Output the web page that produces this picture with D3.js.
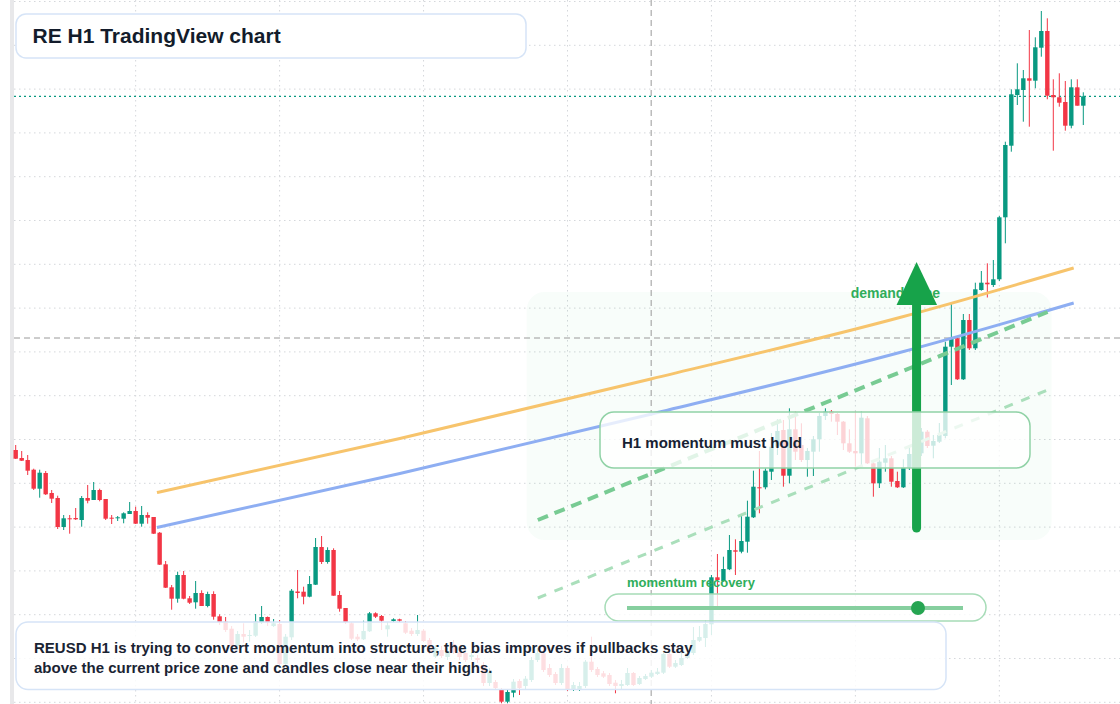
<!DOCTYPE html>
<html>
<head>
<meta charset="utf-8">
<script src="https://cdn.jsdelivr.net/npm/d3@7"></script>
<style>
  html, body { margin: 0; padding: 0; background: #fff; overflow: hidden; }
  svg { display: block; font-family: "Liberation Sans", Arial, Helvetica, sans-serif; }
</style>
</head>
<body>
<div id="chart"></div>
<script>
// REUSD H1 candles: [open, high, low, close]
const candles = [
  [1.05500,1.05550,1.05410,1.05413],[1.05420,1.05490,1.05390,1.05393],[1.05400,1.05450,1.05250,1.05293],
  [1.05303,1.05313,1.05100,1.05113],[1.05113,1.05303,1.05023,1.05273],[1.05270,1.05290,1.05050,1.05057],
  [1.05070,1.05100,1.04970,1.05013],[1.05020,1.05043,1.04710,1.04730],[1.04730,1.04850,1.04700,1.04817],
  [1.04817,1.04850,1.04663,1.04807],[1.04820,1.04920,1.04800,1.04807],[1.04800,1.05040,1.04733,1.05020],
  [1.05020,1.05150,1.04967,1.04993],[1.05000,1.05180,1.05000,1.05100],[1.05100,1.05113,1.04987,1.05000],
  [1.05010,1.05010,1.04800,1.04813],[1.04823,1.04850,1.04760,1.04813],[1.04817,1.04840,1.04790,1.04827],
  [1.04813,1.04877,1.04767,1.04867],[1.04860,1.04980,1.04860,1.04890],[1.04890,1.04933,1.04760,1.04763],
  [1.04763,1.04940,1.04733,1.04850],[1.04850,1.04877,1.04763,1.04823],[1.04830,1.04830,1.04660,1.04663],
  [1.04673,1.04680,1.04350,1.04353],[1.04357,1.04390,1.04120,1.04123],[1.04127,1.04150,1.03903,1.04013],
  [1.04013,1.04283,1.03973,1.04250],[1.04250,1.04290,1.04007,1.04013],[1.04017,1.04040,1.03960,1.03973],
  [1.03977,1.04190,1.03913,1.04070],[1.04070,1.04097,1.03940,1.03940],[1.03940,1.04083,1.03927,1.04060],
  [1.04060,1.04087,1.03803,1.03833],[1.03837,1.03857,1.03750,1.03780],[1.03783,1.03830,1.03680,1.03700],
  [1.03713,1.03740,1.03520,1.03540],[1.03540,1.03690,1.03520,1.03660],[1.03660,1.03767,1.03573,1.03633],
  [1.03640,1.03700,1.03583,1.03650],[1.03643,1.03860,1.03630,1.03783],[1.03780,1.03940,1.03760,1.03830],
  [1.03830,1.03835,1.03740,1.03780],[1.03740,1.03810,1.03730,1.03767],[1.03760,1.03800,1.03350,1.03360],
  [1.03360,1.03660,1.03340,1.03633],[1.03627,1.04110,1.03600,1.04093],[1.04085,1.04300,1.04017,1.04070],
  [1.04083,1.04133,1.03957,1.04033],[1.04033,1.04240,1.04027,1.04160],[1.04153,1.04620,1.04150,1.04530],
  [1.04530,1.04640,1.04360,1.04380],[1.04380,1.04527,1.04363,1.04500],[1.04500,1.04517,1.04043,1.04043],
  [1.04050,1.04090,1.03883,1.03913],[1.03920,1.03920,1.03760,1.03780],[1.03767,1.03780,1.03600,1.03613],
  [1.03633,1.03660,1.03590,1.03607],[1.03607,1.03793,1.03600,1.03690],[1.03687,1.03880,1.03680,1.03867],
  [1.03867,1.03877,1.03820,1.03833],[1.03840,1.03850,1.03700,1.03793],[1.03707,1.03780,1.03633,1.03747],
  [1.03790,1.03817,1.03780,1.03807],[1.03807,1.03813,1.03780,1.03793],[1.03767,1.03790,1.03660,1.03673],
  [1.03693,1.03720,1.03640,1.03660],[1.03660,1.03850,1.03640,1.03700],[1.03693,1.03710,1.03580,1.03590],
  [1.03600,1.03620,1.03460,1.03480],[1.03433,1.03550,1.03420,1.03520],[1.03500,1.03540,1.03420,1.03440],
  [1.03430,1.03520,1.03400,1.03490],[1.03560,1.03600,1.03460,1.03480],[1.03480,1.03500,1.03400,1.03430],
  [1.03470,1.03500,1.03380,1.03400],[1.03430,1.03480,1.03400,1.03450],[1.03420,1.03450,1.03370,1.03400],
  [1.03350,1.03380,1.03140,1.03170],[1.03170,1.03320,1.03140,1.03280],[1.03180,1.03200,1.03100,1.03120],
  [1.03100,1.03120,1.02967,1.02983],[1.02983,1.03100,1.02967,1.03080],[1.03073,1.03210,1.03027,1.03183],
  [1.03190,1.03210,1.03050,1.03120],[1.03140,1.03240,1.03100,1.03213],[1.03200,1.03430,1.03180,1.03400],
  [1.03400,1.03520,1.03380,1.03470],[1.03467,1.03500,1.03280,1.03300],[1.03320,1.03360,1.03230,1.03250],
  [1.03260,1.03280,1.03150,1.03170],[1.03170,1.03360,1.03150,1.03320],[1.03320,1.03340,1.03090,1.03100],
  [1.03100,1.03180,1.03090,1.03150],[1.03110,1.03180,1.03090,1.03140],[1.03140,1.03400,1.03120,1.03383],
  [1.03383,1.03633,1.03280,1.03300],[1.03310,1.03330,1.03230,1.03250],[1.03267,1.03290,1.03220,1.03233],
  [1.03250,1.03270,1.03140,1.03160],[1.03173,1.03200,1.03067,1.03140],[1.03140,1.03200,1.03100,1.03160],
  [1.03150,1.03320,1.03140,1.03270],[1.03270,1.03280,1.03140,1.03150],[1.03160,1.03240,1.03150,1.03220],
  [1.03210,1.03260,1.03200,1.03240],[1.03233,1.03300,1.03220,1.03273],[1.03260,1.03320,1.03250,1.03283],
  [1.03273,1.03480,1.03260,1.03460],[1.03460,1.03480,1.03320,1.03333],[1.03333,1.03400,1.03320,1.03370],
  [1.03350,1.03480,1.03340,1.03420],[1.03420,1.03550,1.03410,1.03470],[1.03470,1.03730,1.03450,1.03600],
  [1.03593,1.03740,1.03580,1.03630],[1.03620,1.03800,1.03530,1.03760],[1.03757,1.04250,1.03650,1.04227],
  [1.04227,1.04460,1.03933,1.04200],[1.04190,1.04433,1.04183,1.04310],[1.04307,1.04650,1.04300,1.04500],
  [1.04497,1.04607,1.04250,1.04483],[1.04483,1.04850,1.04467,1.04590],[1.04583,1.04993,1.04473,1.04833],
  [1.04827,1.05293,1.04820,1.05133],[1.05127,1.05490,1.04867,1.05120],[1.05127,1.05317,1.05107,1.05293],
  [1.05283,1.05670,1.05200,1.05533],[1.05533,1.05807,1.05450,1.05690],[1.05700,1.05800,1.05133,1.05243],
  [1.05243,1.05917,1.05167,1.05707],[1.05707,1.05883,1.05400,1.05483],[1.05550,1.05767,1.05380,1.05400],
  [1.05400,1.05520,1.05233,1.05490],[1.05483,1.05640,1.05240,1.05607],[1.05607,1.05870,1.05483,1.05840],
  [1.05840,1.05917,1.05800,1.05883],[1.05883,1.05900,1.05783,1.05860],[1.05860,1.05870,1.05650,1.05783],
  [1.05783,1.05790,1.05500,1.05567],[1.05567,1.05707,1.05470,1.05483],[1.05490,1.05883,1.05333,1.05467],
  [1.05467,1.05883,1.05333,1.05823],[1.05817,1.05840,1.05360,1.05367],[1.05367,1.05380,1.05033,1.05167],
  [1.05167,1.05520,1.05120,1.05383],[1.05373,1.05550,1.05283,1.05417],[1.05417,1.05440,1.05133,1.05183],
  [1.05190,1.05283,1.05120,1.05127],[1.05127,1.05407,1.05120,1.05323],[1.05323,1.05550,1.05300,1.05460],
  [1.05460,1.05600,1.05420,1.05550],[1.05467,1.05720,1.05440,1.05683],[1.05683,1.05700,1.05520,1.05540],
  [1.05543,1.05650,1.05417,1.05590],[1.05583,1.05770,1.05570,1.05650],[1.05640,1.06583,1.05617,1.06533],
  [1.06533,1.06967,1.06150,1.06617],[1.06617,1.06640,1.06200,1.06207],[1.06207,1.06860,1.06200,1.06800],
  [1.06800,1.06860,1.06500,1.06517],[1.06517,1.07173,1.06500,1.07107],[1.07100,1.07290,1.07093,1.07173],
  [1.07173,1.07367,1.07025,1.07157],[1.07150,1.07400,1.07130,1.07207],[1.07207,1.07840,1.07190,1.07827],
  [1.07827,1.08583,1.07567,1.08550],[1.08543,1.09107,1.08483,1.09057],[1.09050,1.09367,1.08950,1.09107],
  [1.09100,1.09300,1.08783,1.09217],[1.09217,1.09700,1.08733,1.09193],[1.09193,1.09627,1.09117,1.09527],
  [1.09523,1.09890,1.09433,1.09690],[1.09690,1.09817,1.09007,1.09043],[1.09050,1.09207,1.08493,1.09027],
  [1.09027,1.09267,1.08933,1.08973],[1.08980,1.09190,1.08693,1.08743],[1.08743,1.09207,1.08717,1.09127],
  [1.09127,1.09207,1.08943,1.08943],[1.08943,1.09077,1.08750,1.09037]
];

// overlay lines, points as [bar index, price]
const orangeCurve = [[23.55,1.05075],[64.05,1.05615],[105.9,1.06210],[147.4,1.06825],[176.4,1.07320]];
const blueCurve   = [[23.55,1.04725],[64.05,1.05265],[105.9,1.05858],[147.4,1.06475],[176.4,1.06970]];
const trendDashed = [[87.05,1.04800],[172.05,1.06880]];
const lowerDashed = [[87.05,1.04020],[172.05,1.06100]];

// demand zone [from bar, to bar, top price, bottom price]
const demandZone = [85.2, 172.7, 1.07080, 1.04600];
// arrow [bar, from price, to price]
const demandArrow = [150.2, 1.04720, 1.07380];
// crosshair [bar, price]
const crosshair = [105.95, 1.06620];

// session starts (24 H1 bars per day) and price grid levels
const dayStarts = [20, 44, 68, 92, 116, 140, 164];
const gridPrices = d3.range(0, 17).map(k => 1.09985 - k * 0.00438);

const width = 1120;
const height = 704;
const upColor = "#089981";
const downColor = "#f23645";

const svg = d3.select("#chart").append("svg")
    .attr("width", width)
    .attr("height", height);

const x = d3.scaleLinear()
    .domain([0, candles.length - 1])
    .range([15.7, 1083.3]);

const y = d3.scaleLinear()
    .domain([1.1, 1.1 - height / 10000])
    .range([0, height]);

// left panel edge
svg.append("rect")
    .attr("x", 10).attr("y", 0)
    .attr("width", 4).attr("height", height)
    .attr("fill", "#e8e8ea");

// grid
const grid = svg.append("g").attr("stroke", "#d4d7db").attr("stroke-width", 1).attr("stroke-dasharray", "1.5,3.5");
grid.selectAll(".hgrid")
    .data(gridPrices)
    .join("line")
    .attr("x1", 14).attr("x2", width)
    .attr("y1", d => y(d)).attr("y2", d => y(d));
grid.selectAll(".vgrid")
    .data(dayStarts)
    .join("line")
    .attr("x1", d => x(d)).attr("x2", d => x(d))
    .attr("y1", 0).attr("y2", height);

// demand zone
const [z0, z1, zTop, zBottom] = demandZone;
svg.append("rect")
    .attr("x", x(z0)).attr("y", y(zTop))
    .attr("width", x(z1) - x(z0)).attr("height", y(zBottom) - y(zTop))
    .attr("rx", 18)
    .attr("fill", "#22c55e")
    .attr("fill-opacity", 0.03);

// crosshair
const cross = svg.append("g").attr("stroke", "#9a9a9a").attr("stroke-width", 1).attr("stroke-dasharray", "6,4");
cross.append("line")
    .attr("x1", x(crosshair[0])).attr("x2", x(crosshair[0]))
    .attr("y1", 0).attr("y2", height);
cross.append("line")
    .attr("x1", 14).attr("x2", width)
    .attr("y1", y(crosshair[1])).attr("y2", y(crosshair[1]));

// last price line
const lastClose = candles[candles.length - 1][3];
svg.append("line")
    .attr("x1", 14).attr("x2", width)
    .attr("y1", y(lastClose)).attr("y2", y(lastClose))
    .attr("stroke", upColor)
    .attr("stroke-width", 1.2)
    .attr("stroke-dasharray", "2,3");

// candles
const candleG = svg.append("g");
const bars = candleG.selectAll("g.candle")
    .data(candles)
    .join("g")
    .attr("class", "candle")
    .attr("fill", d => d[3] >= d[0] ? upColor : downColor)
    .attr("stroke", d => d[3] >= d[0] ? upColor : downColor);

bars.append("line")
    .attr("x1", (d, i) => x(i)).attr("x2", (d, i) => x(i))
    .attr("y1", d => y(d[1])).attr("y2", d => y(d[2]))
    .attr("stroke-width", 1);

bars.append("rect")
    .attr("x", (d, i) => x(i) - 2.2)
    .attr("width", 4.4)
    .attr("y", d => y(Math.max(d[0], d[3])))
    .attr("height", d => Math.max(1, Math.abs(y(d[0]) - y(d[3]))))
    .attr("stroke", "none");

// moving lines
const curve = d3.line()
    .x(d => x(d[0]))
    .y(d => y(d[1]))
    .curve(d3.curveMonotoneX);

svg.append("path")
    .attr("d", curve(orangeCurve))
    .attr("fill", "none")
    .attr("stroke", "#f7c46c")
    .attr("stroke-width", 3);

svg.append("path")
    .attr("d", curve(blueCurve))
    .attr("fill", "none")
    .attr("stroke", "#8eaef2")
    .attr("stroke-width", 3);

svg.append("path")
    .attr("d", curve(trendDashed))
    .attr("fill", "none")
    .attr("stroke", "#78cb93")
    .attr("stroke-width", 4)
    .attr("stroke-dasharray", "11,7");

svg.append("path")
    .attr("d", curve(lowerDashed))
    .attr("fill", "none")
    .attr("stroke", "#aadfbb")
    .attr("stroke-width", 3)
    .attr("stroke-dasharray", "9,9");

// demand zone label + arrow
svg.append("text")
    .attr("x", x(z0) + 324).attr("y", y(zTop) + 6)
    .attr("font-size", 14)
    .attr("font-weight", "bold")
    .attr("fill", "#30ad5b")
    .text("demand zone");

const ax = x(demandArrow[0]);
const arrowTip = y(demandArrow[2]);
svg.append("line")
    .attr("x1", ax).attr("x2", ax)
    .attr("y1", y(demandArrow[1])).attr("y2", arrowTip + 40)
    .attr("stroke", "#17a34a")
    .attr("stroke-width", 9)
    .attr("stroke-linecap", "round");
svg.append("path")
    .attr("d", `M${ax},${arrowTip} L${ax + 20.5},${arrowTip + 43} L${ax - 20},${arrowTip + 43} Z`)
    .attr("fill", "#17a34a");

// overlay boxes
function box(x0, y0, w, h, r, stroke, opacity) {
    return svg.append("rect")
        .attr("x", x0).attr("y", y0)
        .attr("width", w).attr("height", h)
        .attr("rx", r)
        .attr("fill", "#fff")
        .attr("fill-opacity", opacity)
        .attr("stroke", stroke)
        .attr("stroke-width", 1.5);
}

// H1 box
box(600, 412, 430, 56, 14, "#90d2a6", 0.78);
svg.append("text")
    .attr("x", 622).attr("y", 447.5)
    .attr("font-size", 15).attr("font-weight", "bold")
    .attr("fill", "#172233")
    .text("H1 momentum must hold");

// momentum recovery slider
svg.append("text")
    .attr("x", 627).attr("y", 587)
    .attr("font-size", 13).attr("font-weight", "bold")
    .attr("fill", "#2fae5b")
    .text("momentum recovery");
box(605, 594, 381, 27, 13.5, "#a6dcb7", 0.78);
svg.append("line")
    .attr("x1", 627).attr("x2", 963)
    .attr("y1", 608).attr("y2", 608)
    .attr("stroke", "#86cf9f")
    .attr("stroke-width", 4);
svg.append("circle")
    .attr("cx", 918).attr("cy", 608).attr("r", 7)
    .attr("fill", "#26a552");

// bottom text box
box(16, 622, 930, 67.5, 12, "#d6e4f7", 0.84);
const note = svg.append("text")
    .attr("font-size", 15).attr("font-weight", "bold")
    .attr("fill", "#1a2433");
note.append("tspan").attr("x", 34).attr("y", 653)
    .text("REUSD H1 is trying to convert momentum into structure; the bias improves if pullbacks stay");
note.append("tspan").attr("x", 34).attr("y", 673)
    .text("above the current price zone and candles close near their highs.");

// title
box(16, 14, 510, 44, 10, "#d6e4f7", 1);
svg.append("text")
    .attr("x", 32.5).attr("y", 43)
    .attr("font-size", 21).attr("font-weight", "bold")
    .attr("fill", "#131c2b")
    .text("RE H1 TradingView chart");
</script>
</body>
</html>
